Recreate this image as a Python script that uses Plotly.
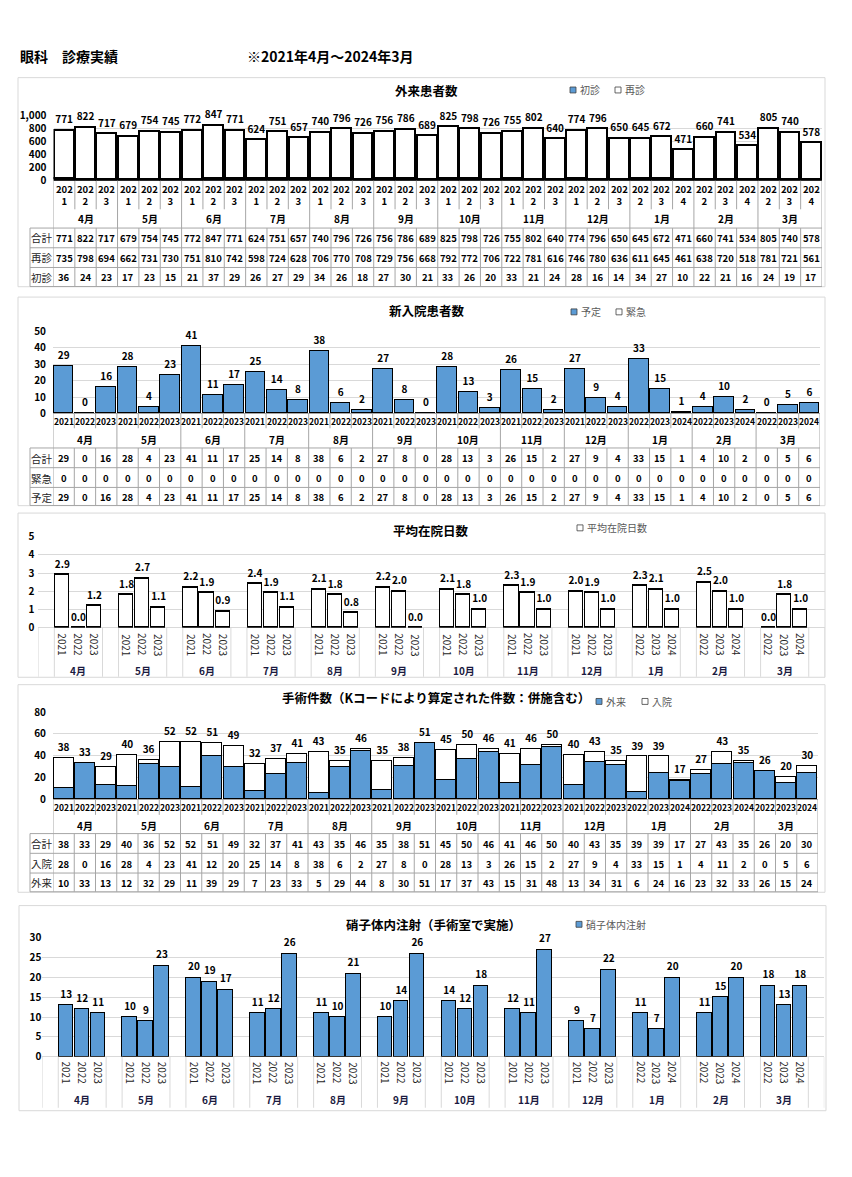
import plotly.graph_objects as go

PAGE_W, PAGE_H = 852, 1177
OFF = 8                      # default body margin of the page
W, H = PAGE_W - 2 * OFF, PAGE_H - 2 * OFF
FONT = "Noto Sans CJK JP"
BLUE = "#5B9BD5"
GRID = "#D9D9D9"
TLINE = "#A6A6A6"
BORDER = "#D9D9D9"

# ---------------- data ----------------
months = ["4月", "5月", "6月", "7月", "8月", "9月", "10月", "11月", "12月", "1月", "2月", "3月"]
years = ["2021", "2022", "2023", "2021", "2022", "2023", "2021", "2022", "2023",
         "2021", "2022", "2023", "2021", "2022", "2023", "2021", "2022", "2023",
         "2021", "2022", "2023", "2021", "2022", "2023", "2021", "2022", "2023",
         "2022", "2023", "2024", "2022", "2023", "2024", "2022", "2023", "2024"]

out_total = [771, 822, 717, 679, 754, 745, 772, 847, 771, 624, 751, 657, 740, 796, 726, 756, 786, 689,
             825, 798, 726, 755, 802, 640, 774, 796, 650, 645, 672, 471, 660, 741, 534, 805, 740, 578]
out_return = [735, 798, 694, 662, 731, 730, 751, 810, 742, 598, 724, 628, 706, 770, 708, 729, 756, 668,
              792, 772, 706, 722, 781, 616, 746, 780, 636, 611, 645, 461, 638, 720, 518, 781, 721, 561]
out_first = [36, 24, 23, 17, 23, 15, 21, 37, 29, 26, 27, 29, 34, 26, 18, 27, 30, 21,
             33, 26, 20, 33, 21, 24, 28, 16, 14, 34, 27, 10, 22, 21, 16, 24, 19, 17]

adm_total = [29, 0, 16, 28, 4, 23, 41, 11, 17, 25, 14, 8, 38, 6, 2, 27, 8, 0,
             28, 13, 3, 26, 15, 2, 27, 9, 4, 33, 15, 1, 4, 10, 2, 0, 5, 6]
adm_emergency = [0, 0, 0, 0, 0, 0, 0, 0, 0, 0, 0, 0, 0, 0, 0, 0, 0, 0,
                 0, 0, 0, 0, 0, 0, 0, 0, 0, 0, 0, 0, 0, 0, 0, 0, 0, 0]
adm_planned = [29, 0, 16, 28, 4, 23, 41, 11, 17, 25, 14, 8, 38, 6, 2, 27, 8, 0,
               28, 13, 3, 26, 15, 2, 27, 9, 4, 33, 15, 1, 4, 10, 2, 0, 5, 6]

stay_avg = [2.9, 0.0, 1.2, 1.8, 2.7, 1.1, 2.2, 1.9, 0.9, 2.4, 1.9, 1.1, 2.1, 1.8, 0.8, 2.2, 2.0, 0.0,
            2.1, 1.8, 1.0, 2.3, 1.9, 1.0, 2.0, 1.9, 1.0, 2.3, 2.1, 1.0, 2.5, 2.0, 1.0, 0.0, 1.8, 1.0]

surg_total = [38, 33, 29, 40, 36, 52, 52, 51, 49, 32, 37, 41, 43, 35, 46, 35, 38, 51,
              45, 50, 46, 41, 46, 50, 40, 43, 35, 39, 39, 17, 27, 43, 35, 26, 20, 30]
surg_in = [28, 0, 16, 28, 4, 23, 41, 12, 20, 25, 14, 8, 38, 6, 2, 27, 8, 0,
           28, 13, 3, 26, 15, 2, 27, 9, 4, 33, 15, 1, 4, 11, 2, 0, 5, 6]
surg_out = [10, 33, 13, 12, 32, 29, 11, 39, 29, 7, 23, 33, 5, 29, 44, 8, 30, 51,
            17, 37, 43, 15, 31, 48, 13, 34, 31, 6, 24, 16, 23, 32, 33, 26, 15, 24]

inj = [13, 12, 11, 10, 9, 23, 20, 19, 17, 11, 12, 26, 11, 10, 21, 10, 14, 26,
       14, 12, 18, 12, 11, 27, 9, 7, 22, 11, 7, 20, 11, 15, 20, 18, 13, 18]


# ---------------- helpers ----------------
def px(x):
    return (x - OFF) / W


def py(y):
    return 1 - (y - OFF) / H


def axn(k):
    return ("x" if k == 1 else f"x{k}"), ("y" if k == 1 else f"y{k}")


pos_c = list(range(36))                                   # contiguous categories
pos_g = [1 + 4 * (i // 3) + (i % 3) for i in range(36)]   # categories with spacer slots

P = {
    1: dict(xd=(53.5, 822), y0=174, yt=108, ymax=1000, dtick=200, fmt=",", so=6, n=36, zc=TLINE),
    2: dict(xd=(53, 820), y0=410, yt=326.7, ymax=50, dtick=10, fmt="", so=6, n=36, zc=TLINE),
    3: dict(xd=(38.3, 824.8), y0=627.3, yt=535, ymax=5, dtick=1, fmt="", so=3, n=49, zc=GRID),
    4: dict(xd=(53, 818), y0=801, yt=713, ymax=80, dtick=20, fmt="", so=6, n=36, zc=TLINE),
    5: dict(xd=(42.3, 824.3), y0=1062.3, yt=941.7, ymax=30, dtick=5, fmt="", so=0, n=49, zc=GRID),
}

fig = go.Figure()
shapes = []
ann = []
layout_axes = {}

for k, p in P.items():
    xs = "xaxis" if k == 1 else f"xaxis{k}"
    ys = "yaxis" if k == 1 else f"yaxis{k}"
    xr, yr = axn(k)
    layout_axes[xs] = dict(domain=[px(p["xd"][0]), px(p["xd"][1])], range=[-0.5, p["n"] - 0.5],
                           showgrid=False, showticklabels=False, zeroline=False, showline=False,
                           ticks="", fixedrange=True, anchor=yr)
    layout_axes[ys] = dict(domain=[py(p["y0"]), py(p["yt"])], range=[0, p["ymax"]], dtick=p["dtick"],
                           tickformat=p["fmt"], showgrid=True, gridcolor=GRID, gridwidth=1,
                           zeroline=True, zerolinecolor=p["zc"], zerolinewidth=1, showline=False,
                           ticks="", ticklabelstandoff=p["so"], fixedrange=True, anchor=xr,
                           tickfont=dict(family=FONT, size=10, color="#000000", weight="bold"))

LINE = dict(color="#000000", width=1.3)


def bar(k, x, y, color, width):
    xr, yr = axn(k)
    fig.add_trace(go.Bar(x=x, y=y, xaxis=xr, yaxis=yr, width=width, showlegend=False,
                         marker=dict(color=color, line=LINE), hoverinfo="skip"))


def labels(k, x, y, txt):
    xr, yr = axn(k)
    fig.add_trace(go.Scatter(x=x, y=y, xaxis=xr, yaxis=yr, mode="markers+text", text=txt,
                             marker=dict(size=6, opacity=0),
                             textposition="top center", cliponaxis=False, showlegend=False,
                             hoverinfo="skip",
                             textfont=dict(family=FONT, size=10, color="#000000", weight="bold")))


# panel 1: outpatients
bar(1, pos_c, out_first, BLUE, 0.93)
bar(1, pos_c, out_return, "#FFFFFF", 0.93)
labels(1, pos_c, out_total, [f"{v}" for v in out_total])
# panel 2: admissions
bar(2, pos_c, adm_planned, BLUE, 0.92)
bar(2, pos_c, adm_emergency, "#FFFFFF", 0.92)
labels(2, pos_c, adm_total, [f"{v}" for v in adm_total])
# panel 3: average stay
bar(3, pos_g, stay_avg, "#FFFFFF", 0.88)
labels(3, pos_g, stay_avg, [f"{v:.1f}" for v in stay_avg])
# panel 4: surgery
bar(4, pos_c, surg_out, BLUE, 0.93)
bar(4, pos_c, surg_in, "#FFFFFF", 0.93)
labels(4, pos_c, surg_total, [f"{v}" for v in surg_total])
# panel 5: injections
bar(5, pos_g, inj, BLUE, 0.92)
labels(5, pos_g, inj, [f"{v}" for v in inj])


def vline(xref, x, ya, yb, color=TLINE):
    shapes.append(dict(type="line", xref=xref, yref="paper", x0=x, x1=x, y0=py(ya), y1=py(yb),
                       line=dict(color=color, width=1)))


def hline(xa, xb, y, color=TLINE):
    shapes.append(dict(type="line", xref="paper", yref="paper", x0=px(xa), x1=px(xb), y0=py(y), y1=py(y),
                       line=dict(color=color, width=1)))


def text(xref, x, y, s, size=9.5, bold=True, color="#000000", angle=0, anchor="center"):
    ann.append(dict(xref=xref, yref="paper", x=x, y=py(y), text=(f"<b>{s}</b>" if bold else s),
                    showarrow=False, textangle=angle, xanchor=anchor, yanchor="middle",
                    font=dict(family=FONT, size=size, color=color)))


def table_panel(k, year_sep_end, bounds, year_y, month_y, row_y, row_names, rows, two_line, yfont):
    xr, _ = axn(k)
    p = P[k]
    y0 = p["y0"]
    for b in range(37):
        xb = b - 0.5
        if b % 3 == 0:
            vline(xr, xb, y0, bounds[-1])
        else:
            vline(xr, xb, y0, year_sep_end)
            vline(xr, xb, bounds[0], bounds[-1])
    for yb in bounds:
        hline(30, p["xd"][1], yb)
    vline("paper", px(30), bounds[0], bounds[-1])
    for i in range(36):
        ylab = f"{years[i][:3]}<br>{years[i][3:]}" if two_line else years[i]
        text(xr, pos_c[i], year_y, ylab, size=yfont)
    for m in range(12):
        text(xr, 3 * m + 1, month_y, months[m], size=10)
    for r, (name, vals) in enumerate(zip(row_names, rows)):
        text("paper", px(41.5), row_y[r], name, size=10.5, bold=False, color="#262626")
        for i in range(36):
            text(xr, pos_c[i], row_y[r], f"{vals[i]}", size=9.5)


table_panel(1, 203, [222, 242, 262, 281.3], 188.5, 212.5, [232, 252, 272],
            ["合計", "再診", "初診"], [out_total, out_return, out_first], True, 9.5)
table_panel(2, 425, [445, 465, 485, 503.3], 418, 436, [455.5, 475.5, 495],
            ["合計", "緊急", "予定"], [adm_total, adm_emergency, adm_planned], False, 8.5)
table_panel(4, 817, [836, 856, 876, 895], 809, 828, [846.5, 866.5, 886],
            ["合計", "入院", "外来"], [surg_total, surg_in, surg_out], False, 8.5)


def gap_panel(k, bottom, year_y, month_y):
    xr, _ = axn(k)
    y0 = P[k]["y0"]
    for m in range(13):
        vline(xr, 4 * m - 0.5, y0, bottom, GRID)
        vline(xr, 4 * m + 0.5, y0, bottom, GRID)
    for i in range(36):
        text(xr, pos_g[i], year_y, years[i], size=10, bold=False, color="#262626", angle=90)
    for m in range(12):
        text(xr, 4 * m + 2, month_y, months[m], size=10, color="#1a1a40")


gap_panel(3, 677, 644.5, 671)
gap_panel(5, 1114, 1078.5, 1106)

# panel frames
for (x0, y0, x1, y1) in [(18, 69.5, 825, 281.5), (18, 292, 825, 503.5), (18, 511, 825, 677.5),
                         (18, 685, 825, 895.5), (19, 909, 826, 1117)]:
    shapes.append(dict(type="rect", xref="paper", yref="paper", x0=px(x0), x1=px(x1), y0=py(y1), y1=py(y0),
                       line=dict(color=BORDER, width=1), fillcolor="rgba(0,0,0,0)", layer="below"))

# titles
for (cx, cy, s) in [(426.5, 83, "外来患者数"), (426.5, 306, "新入院患者数"), (430.5, 529, "平均在院日数"),
                    (436, 698, "手術件数（Kコードにより算定された件数：併施含む）"),
                    (433.5, 928, "硝子体内注射（手術室で実施）")]:
    text("paper", px(cx), cy, s, size=12.5)

# legends
for (lx, ly, fill, s) in [(570, 82, BLUE, "初診"), (615, 82, "#FFFFFF", "再診"),
                          (571, 307, BLUE, "予定"), (616, 307, "#FFFFFF", "緊急"),
                          (577, 526, "#FFFFFF", "平均在院日数"),
                          (596, 702, BLUE, "外来"), (642, 702, "#FFFFFF", "入院"),
                          (576, 928, BLUE, "硝子体内注射")]:
    shapes.append(dict(type="rect", xref="paper", yref="paper", x0=px(lx), x1=px(lx + 6),
                       y0=py(ly + 3), y1=py(ly - 3), line=dict(color="#404040", width=0.8), fillcolor=fill))
    text("paper", px(lx + 7.5), ly, s, size=10, bold=False, color="#595959", anchor="left")

# page header
text("paper", px(18), 48, "眼科　診療実績", size=14, anchor="left")
text("paper", px(245), 48, "※2021年4月～2024年3月", size=14, anchor="left")

fig.update_layout(width=W, height=H, margin=dict(l=0, r=0, t=0, b=0), paper_bgcolor="white",
                  plot_bgcolor="white", barmode="stack", bargap=0, shapes=shapes, annotations=ann,
                  font=dict(family=FONT), **layout_axes)

fig.write_html("out.html", config={"displayModeBar": False})
